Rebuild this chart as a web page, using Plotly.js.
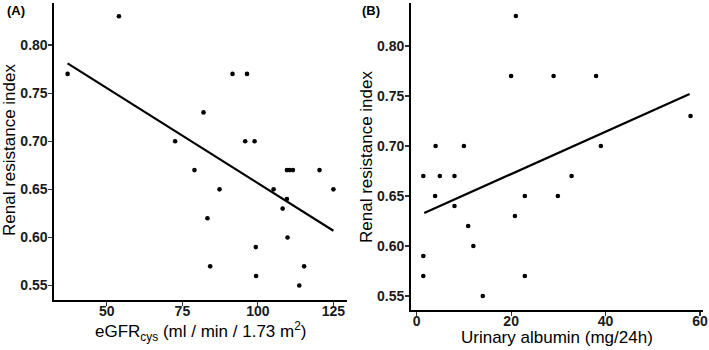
<!DOCTYPE html>
<html>
<head>
<meta charset="utf-8">
<script src="https://cdn.plot.ly/plotly-3.0.1.min.js"></script>
<style>
  html, body { margin: 0; padding: 0; background: #ffffff; }
  #chart { width: 709px; height: 350px; }
</style>
</head>
<body>
<div id="chart"></div>
<script>
// Panel A: renal resistance index vs cystatin-C based eGFR
const egfrCys = [37, 54, 72.6, 82, 91.6, 96.4, 95.8, 98.9, 79, 109.6, 110.5, 111.6, 120.4,
                 87.3, 105.2, 125, 109.6, 108.2, 83.3, 109.8, 99.3, 84.2, 115.3, 99.4, 113.7];
const rriA = [0.77, 0.83, 0.70, 0.73, 0.77, 0.77, 0.70, 0.70, 0.67, 0.67, 0.67, 0.67, 0.67,
              0.65, 0.65, 0.65, 0.64, 0.63, 0.62, 0.60, 0.59, 0.57, 0.57, 0.56, 0.55];
// Linear fit for panel A (end points of the fitted line)
const fitA_x = [37, 125];
const fitA_y = [0.781, 0.607];

// Panel B: renal resistance index vs urinary albumin excretion
const albumin = [4, 10, 21, 20, 29, 38, 58, 39, 1.4, 4.9, 8, 32.8,
                 3.9, 22.9, 29.9, 8, 20.8, 10.9, 12, 1.4, 1.4, 22.9, 14];
const rriB = [0.70, 0.70, 0.83, 0.77, 0.77, 0.77, 0.73, 0.70, 0.67, 0.67, 0.67, 0.67,
              0.65, 0.65, 0.65, 0.64, 0.63, 0.62, 0.60, 0.59, 0.57, 0.57, 0.55];
// Linear fit for panel B
const fitB_x = [1.6, 57.8];
const fitB_y = [0.633, 0.752];

const yTicks = [0.55, 0.60, 0.65, 0.70, 0.75, 0.80];
const yTickLabels = ['0.55', '0.60', '0.65', '0.70', '0.75', '0.80'];
const xTicksA = [50, 75, 100, 125];
const xTicksB = [0, 20, 40, 60];

const W = 709, H = 350;
const FONT = 'Liberation Sans, Arial, Helvetica, sans-serif';
const px = v => v / W;
const py = v => 1 - v / H;

const pointStyle = { color: '#000000', size: 4.6 };
const fitStyle = { color: '#000000', width: 2.2 };

const traces = [
  { x: egfrCys, y: rriA, type: 'scatter', mode: 'markers', marker: pointStyle, xaxis: 'x', yaxis: 'y', hoverinfo: 'skip' },
  { x: fitA_x, y: fitA_y, type: 'scatter', mode: 'lines', line: fitStyle, xaxis: 'x', yaxis: 'y', hoverinfo: 'skip' },
  { x: albumin, y: rriB, type: 'scatter', mode: 'markers', marker: pointStyle, xaxis: 'x2', yaxis: 'y2', hoverinfo: 'skip' },
  { x: fitB_x, y: fitB_y, type: 'scatter', mode: 'lines', line: fitStyle, xaxis: 'x2', yaxis: 'y2', hoverinfo: 'skip' }
];

function axisBase(extra) {
  return Object.assign({
    showline: true, linecolor: '#000000', linewidth: 1.6,
    ticks: 'outside', ticklen: 4, tickwidth: 1.1, tickcolor: '#333333',
    showgrid: false, zeroline: false, fixedrange: true,
    tickfont: { family: FONT, size: 14, color: '#1a1a1a', weight: 700 }
  }, extra);
}

const layout = {
  width: W, height: H,
  margin: { l: 0, r: 0, t: 0, b: 0 },
  paper_bgcolor: '#ffffff', plot_bgcolor: '#ffffff',
  showlegend: false,
  xaxis: axisBase({ domain: [px(54), px(346.7)], range: [32.5, 129.4], tickvals: xTicksA,
                    ticklabelstandoff: -6, anchor: 'y' }),
  yaxis: axisBase({ domain: [py(300), py(3)], range: [0.535, 0.8437], tickvals: yTicks, ticktext: yTickLabels,
                    ticklabelstandoff: -2, anchor: 'x' }),
  xaxis2: axisBase({ domain: [px(410.7), px(703.3)], range: [-1.27, 60.7], tickvals: xTicksB,
                     ticklabelstandoff: -6, anchor: 'y2' }),
  yaxis2: axisBase({ domain: [py(310), py(3)], range: [0.536, 0.843], tickvals: yTicks, ticktext: yTickLabels,
                     ticklabelstandoff: -2, anchor: 'x2' }),
  annotations: [
    { text: '<b>(A)</b>', x: px(16), y: py(10), xref: 'paper', yref: 'paper', xanchor: 'center', yanchor: 'middle', showarrow: false,
      font: { family: FONT, size: 13, color: '#000000' } },
    { text: '<b>(B)</b>', x: px(371), y: py(10), xref: 'paper', yref: 'paper', xanchor: 'center', yanchor: 'middle', showarrow: false,
      font: { family: FONT, size: 13, color: '#000000' } },
    { text: 'Renal resistance index', textangle: -90, x: px(9), y: py(150), xref: 'paper', yref: 'paper', xanchor: 'center', yanchor: 'middle', showarrow: false,
      font: { family: FONT, size: 17, color: '#000000' } },
    { text: 'Renal resistance index', textangle: -90, x: px(366), y: py(157), xref: 'paper', yref: 'paper', xanchor: 'center', yanchor: 'middle', showarrow: false,
      font: { family: FONT, size: 17, color: '#000000' } },
    { text: 'eGFR<sub>cys</sub> (ml / min / 1.73 m<sup>2</sup>)', x: px(201), y: py(331), xref: 'paper', yref: 'paper', xanchor: 'center', yanchor: 'middle', showarrow: false,
      font: { family: FONT, size: 17, color: '#000000' } },
    { text: 'Urinary albumin (mg/24h)', x: px(557), y: py(337), xref: 'paper', yref: 'paper', xanchor: 'center', yanchor: 'middle', showarrow: false,
      font: { family: FONT, size: 17, color: '#000000' } }
  ]
};

Plotly.newPlot('chart', traces, layout, { staticPlot: true, displayModeBar: false });
</script>
</body>
</html>
